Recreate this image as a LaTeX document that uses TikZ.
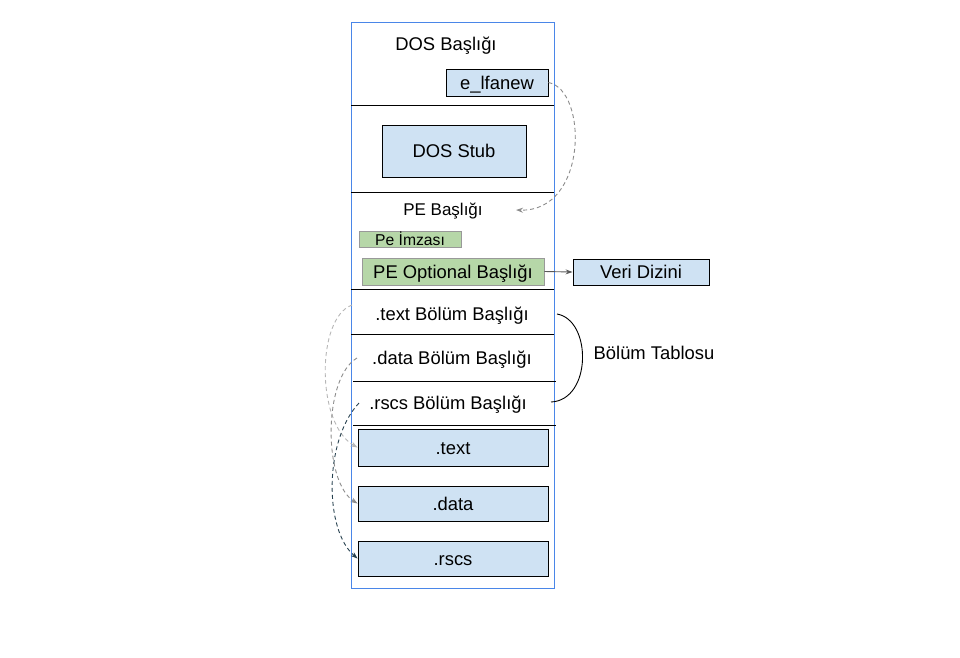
\documentclass[tikz,border=0pt]{standalone}
\usepackage{fontspec}
\setmainfont{Liberation Sans}
\usetikzlibrary{arrows.meta}
\definecolor{boxblue}{HTML}{CFE2F3}
\definecolor{boxgreen}{HTML}{B6D7A8}
\definecolor{greenedge}{HTML}{999999}
\definecolor{frameblue}{HTML}{4A86E8}
\definecolor{lightdash}{HTML}{B7B7B7}
\definecolor{middash}{HTML}{8C8C8C}
\definecolor{darkdash}{HTML}{27414F}
\definecolor{arrowgrey}{HTML}{595959}
\tikzset{
  capsz/.style={text height=13.2pt, text depth=0pt},
  lbl/.style={font=\fontsize{18.4}{22}\selectfont, inner sep=0pt, capsz},
  bluebox/.style={draw=black, fill=boxblue, line width=0.9pt, inner sep=0pt, font=\fontsize{18.4}{22}\selectfont, capsz},
  greenbox/.style={draw=greenedge, fill=boxgreen, line width=0.9pt, inner sep=0pt},
  sep/.style={draw=black, line width=1pt},
  dashconn/.style={dash pattern=on 4pt off 3pt, line width=0.9pt, -{Stealth[length=7pt,width=5pt]}},
}
\begin{document}
\begin{tikzpicture}[x=1pt,y=-1pt]
\useasboundingbox (0,0) rectangle (960,657);
% frame
\node[draw=frameblue, line width=1pt, minimum width=203pt, minimum height=566pt, inner sep=0pt] (frame) at (452.5,305) {};
% separators
\draw[sep] (351,105) -- (554,105);
\draw[sep] (351,192) -- (554,192);
\draw[sep] (351,289) -- (554,289);
\draw[sep] (351,334) -- (554,334);
\draw[sep] (353,381) -- (556,381);
\draw[sep] (353,425) -- (556,425);
% top section
\node[lbl] (dostitle) at (446,43.8) {DOS Başlığı};
\node[bluebox, minimum width=102pt, minimum height=27pt] (elfanew) at (497,82.5) {e\_lfanew};
\node[bluebox, minimum width=144pt, minimum height=52pt] (dosstub) at (454,151) {DOS Stub};
\node[lbl, font=\fontsize{17}{20}\selectfont, text height=12.2pt] (petitle) at (443,209.7) {PE Başlığı};
\coordinate (pein) at (516,210);
\node[greenbox, minimum width=102pt, minimum height=16pt, font=\fontsize{15.7}{18}\selectfont, text height=11.2pt, text depth=0pt] (peimza) at (410,239.5) {Pe İmzası};
\node[greenbox, minimum width=182pt, minimum height=27pt, font=\fontsize{18.4}{22}\selectfont, capsz] (peopt) at (453,271.5) {PE Optional Başlığı};
\node[bluebox, minimum width=136pt, minimum height=26pt] (veri) at (641,272) {Veri Dizini};
% section headers
\node[lbl] (texthdr) at (452,313.8) {.text Bölüm Başlığı};
\node[lbl] (datahdr) at (452,358.3) {.data Bölüm Başlığı};
\node[lbl] (rscshdr) at (448,403.3) {.rscs Bölüm Başlığı};
\node[lbl] (tablo) at (654,352.8) {Bölüm Tablosu};
% sections
\node[bluebox, minimum width=190pt, minimum height=37pt] (textsec) at (453,447.5) {.text};
\node[bluebox, minimum width=190pt, minimum height=35pt] (datasec) at (453,503.5) {.data};
\node[bluebox, minimum width=190pt, minimum height=35pt] (rscssec) at (453,558.5) {.rscs};
% connectors
\draw[dashconn, draw=middash, arrows={-{Stealth[length=7pt,width=5pt,fill=middash]}}] (elfanew.east) .. controls (588,90) and (588,212) .. (pein);
\draw[draw=arrowgrey, line width=0.9pt, -{Stealth[length=7pt,width=5pt]}] (peopt.east) -- (veri.west);
\coordinate (bracetop) at (557,314);
\coordinate (bracebot) at (551,402);
\draw[black, line width=0.9pt] (bracetop) .. controls (592,320) and (592,400) .. (bracebot);
\coordinate (ts) at (352,305);
\coordinate (ds) at (357,358);
\coordinate (rs) at (359,403);
\draw[dashconn, draw=lightdash] (ts) .. controls (316,318) and (316,424) .. (textsec.west);
\draw[dashconn, draw=middash] (ds) .. controls (323,378) and (323,482) .. (datasec.west);
\draw[dashconn, draw=darkdash] (rs) .. controls (324,440) and (324,530) .. (rscssec.west);
\end{tikzpicture}
\end{document}
